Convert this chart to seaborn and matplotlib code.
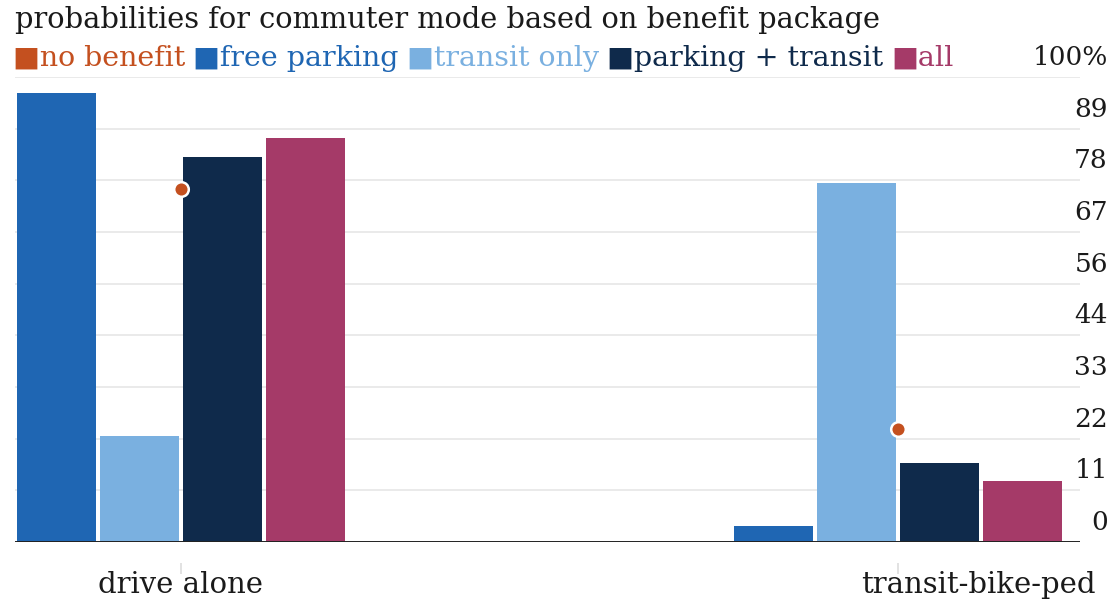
import matplotlib
matplotlib.use("Agg")
import matplotlib.pyplot as plt
from matplotlib.transforms import ScaledTranslation
import seaborn as sns
import pandas as pd
import numpy as np

# ---- data ----
categories = ["drive alone", "transit-bike-ped"]
series = ["free parking", "transit only", "parking + transit", "all"]
free_parking = [96.6, 3.4]
transit_only = [22.8, 77.2]
parking_transit = [82.8, 17.0]
all_benefits = [86.9, 13.1]
no_benefit = [75.9, 24.3]
ytick_values = [0, 100/9, 200/9, 300/9, 400/9, 500/9, 600/9, 700/9, 800/9, 100]
ytick_labels = ["0", "11", "22", "33", "44", "56", "67", "78", "89", "100%"]
title = "probabilities for commuter mode based on benefit package"
legend_labels = ["no benefit", "free parking", "transit only", "parking + transit", "all"]

colors = {
    "no benefit": "#c4501f",
    "free parking": "#1f66b3",
    "transit only": "#7ab0e0",
    "parking + transit": "#0f2a4b",
    "all": "#a53a68",
}

rows = []
for s, vals in zip(series, [free_parking, transit_only, parking_transit, all_benefits]):
    for c, v in zip(categories, vals):
        rows.append({"mode": c, "package": s, "value": v})
df = pd.DataFrame(rows)
df_nb = pd.DataFrame({"mode": categories, "value": no_benefit})

sns.set_theme(style="white")
plt.rcParams["font.family"] = ["DejaVu Serif"]

fig = plt.figure(figsize=(11.2, 6.0), dpi=100)
ax = fig.add_axes([15/1120, 1 - 542/600, (1080 - 15)/1120, (542 - 77)/600])

sns.barplot(data=df, x="mode", y="value", hue="package", order=categories,
            hue_order=series, palette=[colors[s] for s in series], saturation=1,
            width=0.463, gap=0.04, linewidth=0, ax=ax, legend=False, zorder=3)
sns.stripplot(data=df_nb, x="mode", y="value", order=categories, jitter=False,
              color=colors["no benefit"], size=10.5, edgecolor="white", linewidth=1.8,
              ax=ax, zorder=5)

ax.set_xlim(-0.2315, 1.254)
ax.set_ylim(0, 100)
ax.set_xlabel("")
ax.set_ylabel("")

# grid
ax.set_yticks(ytick_values)
ax.set_yticklabels(ytick_labels)
ax.yaxis.tick_right()
ax.grid(axis="y", color="#e8e8e8", linewidth=1.3, zorder=0)
ax.grid(axis="x", visible=False)
ax.axhline(0, color="#222222", linewidth=1.4, zorder=4)
for sp in ["left", "right", "top"]:
    ax.spines[sp].set_visible(False)
ax.spines["bottom"].set_position(("outward", 15))
ax.spines["bottom"].set_visible(False)

ax.tick_params(axis="y", length=0, pad=20, labelsize=19, labelcolor="#1a1a1a")
for lab in ax.get_yticklabels():
    lab.set_horizontalalignment("right")
    lab.set_verticalalignment("bottom")
    lab.set_transform(lab.get_transform() + ScaledTranslation(0, 5/72, fig.dpi_scale_trans))

ax.tick_params(axis="x", length=8, width=1.2, color="#dddddd", direction="out",
               pad=-2, labelsize=21, labelcolor="#1a1a1a", bottom=True)
xl = ax.get_xticklabels()
xl[1].set_transform(xl[1].get_transform() + ScaledTranslation(80/100, 0, fig.dpi_scale_trans))

# title
fig.text(15/1120, 1 - 20/600, title, fontsize=20.8, color="#1a1a1a", va="center", ha="left")

# legend row
fig.canvas.draw()
renderer = fig.canvas.get_renderer()
x = 13
legend_colors = [colors[l] for l in legend_labels]
for lbl, col in zip(legend_labels, legend_colors):
    t = fig.text(x/1120, 1 - 58/600, "\u25a0" + lbl, fontsize=20.5, color=col,
                 va="center", ha="left")
    bb = t.get_window_extent(renderer)
    x = bb.x1 + 8

fig.savefig("out.png", dpi=100)
